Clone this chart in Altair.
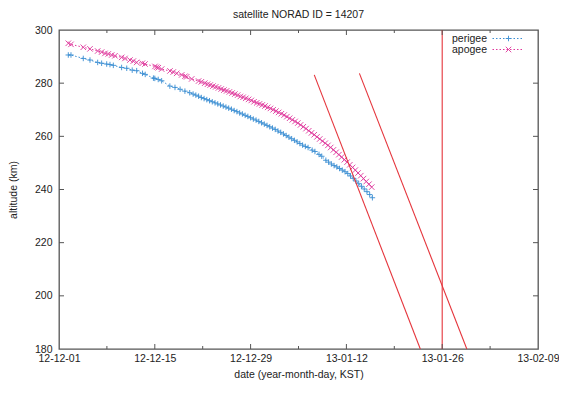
import altair as alt
import pandas as pd

TITLE = "satellite NORAD ID = 14207"
X_TITLE = "date (year-month-day, KST)"
Y_TITLE = "altitude (km)"
SERIES = ["perigee", "apogee"]

# days after 2012-12-01 00:00 and altitude (km)
perigee_day = [1.36, 1.75, 3.55, 4.53, 5.65, 6.23, 6.97, 7.45, 7.94, 9.15, 9.90, 10.70,
               11.35, 12.20, 12.60, 13.80, 14.00, 14.50, 15.00, 16.20, 16.95, 17.70, 18.40,
               19.10, 19.60, 20.00, 20.40, 20.80, 21.20, 21.60, 22.00, 22.40, 22.80, 23.20,
               23.60, 24.00, 24.40, 24.80, 25.20, 25.60, 26.00, 26.40, 26.80, 27.20, 27.60,
               28.00, 28.40, 28.80, 29.20, 29.60, 30.00, 30.40, 30.80, 31.20, 31.60, 32.00,
               32.40, 32.80, 33.20, 33.60, 34.00, 34.40, 34.80, 35.20, 35.60, 36.00, 36.40,
               37.00, 37.40, 38.00, 38.40, 39.00, 39.40, 39.80, 40.20, 40.60, 41.00, 41.40,
               41.80, 42.20, 42.60, 43.00, 43.40, 43.80, 44.20, 44.60, 45.00, 45.40, 45.80]
perigee_alt = [290.6, 290.6, 289.3, 288.7, 287.8, 287.5, 287.2, 287.0, 286.7, 285.9, 285.6, 284.9,
               284.7, 283.7, 283.3, 281.9, 281.8, 281.4, 280.9, 278.9, 278.4, 277.7, 277.0,
               276.4, 275.9, 275.5, 275.1, 274.6, 274.2, 273.8, 273.4, 273.0, 272.6, 272.2,
               271.8, 271.4, 271.0, 270.6, 270.2, 269.7, 269.3, 268.8, 268.4, 267.9, 267.5,
               267.0, 266.5, 266.1, 265.6, 265.1, 264.6, 264.1, 263.6, 263.1, 262.6, 262.0,
               261.5, 260.9, 260.3, 259.7, 259.1, 258.5, 257.9, 257.3, 256.7, 256.2, 255.8,
               254.8, 254.3, 253.2, 252.5, 251.0, 250.3, 249.6, 249.0, 248.5, 247.9, 247.3,
               246.7, 246.0, 245.1, 244.2, 243.2, 242.2, 241.2, 240.2, 239.2, 238.1, 236.9]

apogee_day = [1.36, 1.75, 3.55, 4.53, 5.65, 6.23, 6.72, 7.20, 7.70, 8.18, 9.16, 9.64, 10.37,
              10.86, 11.35, 12.18, 12.57, 14.03, 14.27, 14.51, 15.00, 16.22, 16.70, 17.20,
              17.93, 18.41, 18.66, 19.39, 20.40, 20.80, 21.30, 21.70, 22.10, 22.50, 22.90,
              23.30, 23.70, 24.10, 24.50, 24.90, 25.30, 25.70, 26.10, 26.50, 26.90, 27.30,
              27.70, 28.10, 28.50, 28.90, 29.30, 29.70, 30.10, 30.50, 30.90, 31.30, 31.70,
              32.10, 32.50, 32.90, 33.30, 33.70, 34.10, 34.50, 34.90, 35.30, 35.70, 36.10,
              36.50, 36.90, 37.30, 37.70, 38.10, 38.50, 38.90, 39.30, 39.70, 40.10, 40.50,
              40.90, 41.30, 41.70, 42.10, 42.50, 42.90, 43.30, 43.70, 44.10, 44.50, 44.90,
              45.30, 45.70]
apogee_alt = [295.0, 294.6, 293.5, 292.9, 292.1, 291.7, 291.2, 291.0, 290.6, 290.3, 289.7, 289.3, 288.7,
              288.3, 287.8, 287.5, 287.2, 286.3, 286.0, 285.8, 285.3, 284.6, 284.2, 283.7,
              283.1, 282.6, 282.4, 281.6, 280.8, 280.5, 280.0, 279.6, 279.3, 278.9, 278.6,
              278.2, 277.8, 277.4, 277.1, 276.7, 276.3, 275.9, 275.5, 275.0, 274.7, 274.3,
              273.9, 273.5, 273.0, 272.6, 272.2, 271.8, 271.4, 270.9, 270.5, 270.0, 269.5,
              269.0, 268.5, 268.0, 267.4, 266.8, 266.2, 265.6, 265.0, 264.3, 263.6, 262.9,
              262.1, 261.3, 260.6, 259.8, 259.0, 258.2, 257.4, 256.6, 255.8, 254.9, 254.0,
              253.1, 252.2, 251.2, 250.3, 249.3, 248.3, 247.3, 246.2, 245.2, 244.1, 243.0,
              242.0, 240.9]

# red guide lines (two decay trends and the re-entry date)
guide_id = ["trend1", "trend1", "trend2", "trend2", "reentry", "reentry"]
guide_day = [37.3, 52.8, 43.9, 59.6, 56.0, 56.0]
guide_alt = [283.1, 180.0, 283.7, 180.0, 300.0, 180.0]

x_domain_day = [0, 70]
x_major_day = [0, 14, 28, 42, 56, 70]
x_minor_day = [7, 21, 35, 49, 63]
y_domain = [180, 300]
y_tick_values = [180, 200, 220, 240, 260, 280, 300]
y_inner_ticks = [200, 220, 240, 260, 280]

# ---------------------------------------------------------------
BASE_MS = int(pd.Timestamp("2012-12-01", tz="UTC").value // 10**6)
DAY_MS = 86400000


def to_ms(days):
    return [BASE_MS + d * DAY_MS for d in days]


FONT = "Liberation Sans"
TXT = "#222222"
FRAME = "#555555"
BLUE = "#3a8ed3"
PINK = "#e0379c"
RED = "#e5343b"
W, H = 479, 319

df = pd.concat([
    pd.DataFrame({"t": to_ms(perigee_day), "alt": perigee_alt, "series": "perigee"}),
    pd.DataFrame({"t": to_ms(apogee_day), "alt": apogee_alt, "series": "apogee"}),
], ignore_index=True)
df["series_pt"] = df["series"]

guides = pd.DataFrame({"t": to_ms(guide_day), "alt": guide_alt, "lid": guide_id})
major = pd.DataFrame({"t": to_ms(x_major_day[1:-1])})
minor = pd.DataFrame({"t": to_ms(x_minor_day)})
yt = pd.DataFrame({"alt": y_inner_ticks})

X_SCALE = alt.Scale(type="utc", domain=to_ms(x_domain_day))
Y_SCALE = alt.Scale(domain=y_domain, nice=False, zero=False)
X_AXIS = alt.Axis(values=to_ms(x_major_day),
                  labelExpr="utcFormat(datum.value, '%y-%m-%d')",
                  title=X_TITLE, labelFlush=False, labelOverlap=False,
                  labelPadding=4, titlePadding=6, domain=False, ticks=False, grid=False,
                  labelFont=FONT, labelFontSize=10.5, labelColor=TXT,
                  titleFont=FONT, titleFontSize=10.5, titleFontWeight="normal",
                  titleColor=TXT)
Y_AXIS = alt.Axis(values=y_tick_values, title=Y_TITLE, labelPadding=7,
                  titlePadding=16, domain=False, ticks=False, grid=False,
                  labelFont=FONT, labelFontSize=10.5, labelColor=TXT,
                  titleFont=FONT, titleFontSize=10.5, titleFontWeight="normal",
                  titleColor=TXT)

X = alt.X("t:T", scale=X_SCALE, axis=X_AXIS)
Y = alt.Y("alt:Q", scale=Y_SCALE, axis=Y_AXIS)

PLUS = "M-0.55,0L0.55,0M0,-0.55L0,0.55"
CROSS = "M-0.55,-0.55L0.55,0.55M-0.55,0.55L0.55,-0.55"

legend_line = alt.Legend(title=None, orient="none", legendX=443, legendY=3,
                         symbolType="M-3,0L3,0", symbolSize=100, symbolDash=[1.5, 2],
                         symbolStrokeWidth=1, labelAlign="right",
                         labelOffset={"expr": "-26"},
                         rowPadding=0, padding=0, labelFont=FONT, labelFontSize=10.5,
                         labelColor=TXT)
legend_pt = alt.Legend(title=None, orient="none", legendX=444, legendY=3,
                       symbolSize=100, symbolStrokeWidth=1, labelExpr="''",
                       rowPadding=0, padding=0, labelFontSize=10.5)

lines = alt.Chart(df).mark_line(strokeDash=[1.5, 2], strokeWidth=1).encode(
    x=X, y=Y,
    color=alt.Color("series:N", scale=alt.Scale(domain=SERIES, range=[BLUE, PINK]),
                    legend=legend_line),
)

points = alt.Chart(df).mark_point(filled=False, strokeWidth=1, size=100, opacity=0.9).encode(
    x=X, y=Y,
    color=alt.Color("series_pt:N", scale=alt.Scale(domain=SERIES, range=[BLUE, PINK]),
                    legend=legend_pt),
    shape=alt.Shape("series_pt:N", scale=alt.Scale(domain=SERIES, range=[PLUS, CROSS]),
                    legend=legend_pt),
)

red = alt.Chart(guides).mark_line(color=RED, strokeWidth=1.1, clip=True).encode(
    x=X, y=Y, detail="lid:N")

tick_major_b = alt.Chart(major).mark_rule(color=FRAME, strokeWidth=1).encode(
    x=X, y=alt.value(H), y2=alt.value(H - 5))
tick_major_t = alt.Chart(major).mark_rule(color=FRAME, strokeWidth=1).encode(
    x=X, y=alt.value(0), y2=alt.value(5))
tick_minor_b = alt.Chart(minor).mark_rule(color=FRAME, strokeWidth=1).encode(
    x=X, y=alt.value(H), y2=alt.value(H - 3))
tick_minor_t = alt.Chart(minor).mark_rule(color=FRAME, strokeWidth=1).encode(
    x=X, y=alt.value(0), y2=alt.value(3))
tick_y_l = alt.Chart(yt).mark_rule(color=FRAME, strokeWidth=1).encode(
    y=Y, x=alt.value(0), x2=alt.value(5))
tick_y_r = alt.Chart(yt).mark_rule(color=FRAME, strokeWidth=1).encode(
    y=Y, x=alt.value(W), x2=alt.value(W - 5))

chart = alt.layer(
    lines, points, red,
    tick_major_b, tick_major_t, tick_minor_b, tick_minor_t, tick_y_l, tick_y_r,
).resolve_scale(color="independent", shape="independent").properties(
    width=W, height=H,
    background="white",
    title=alt.TitleParams(TITLE, font=FONT, fontSize=10.5, fontWeight="normal",
                          color=TXT, offset=5, anchor="middle"),
    autosize=alt.AutoSizeParams(type="none"),
    padding={"left": 51, "top": 22, "right": 21, "bottom": 37},
).configure_view(
    stroke=FRAME, strokeWidth=1.3
)

chart.save("out.html", embed_options={"renderer": "svg", "actions": False})
